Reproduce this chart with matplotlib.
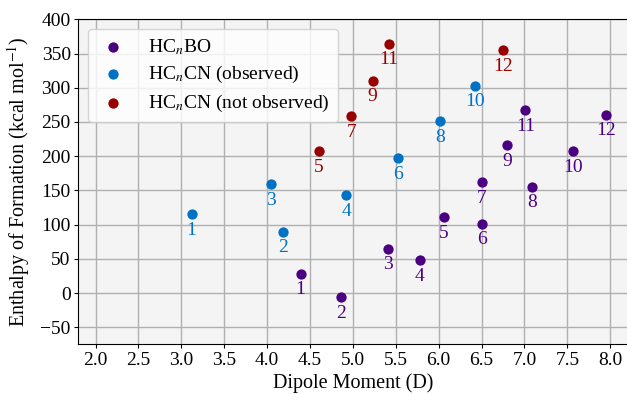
import matplotlib
matplotlib.use("Agg")
import matplotlib.pyplot as plt

# HCnBO
bo_n = [1, 2, 3, 4, 5, 6, 7, 8, 9, 10, 11, 12]
bo_dipole = [4.39, 4.86, 5.41, 5.78, 6.06, 6.50, 6.50, 7.09, 6.80, 7.57, 7.01, 7.95]
bo_enthalpy = [28.3, -6.3, 64.7, 48.1, 110.8, 101.6, 162.4, 155.5, 215.7, 207.6, 267.3, 260.5]

# HCnCN observed
obs_n = [1, 2, 3, 4, 6, 8, 10]
obs_dipole = [3.12, 4.19, 4.05, 4.92, 5.53, 6.02, 6.42]
obs_enthalpy = [115.2, 89.5, 158.9, 143.4, 196.8, 250.7, 302.8]

# HCnCN not observed
nobs_n = [5, 7, 9, 11, 12]
nobs_dipole = [4.60, 4.98, 5.23, 5.42, 6.75]
nobs_enthalpy = [207.0, 258.6, 310.5, 364.4, 355.2]

xticks = [2.0, 2.5, 3.0, 3.5, 4.0, 4.5, 5.0, 5.5, 6.0, 6.5, 7.0, 7.5, 8.0]
yticks = [-50, 0, 50, 100, 150, 200, 250, 300, 350, 400]

plt.rcParams['font.family'] = ['Liberation Serif', 'DejaVu Serif']
plt.rcParams['mathtext.fontset'] = 'stix'

fig = plt.figure(figsize=(6.27, 3.94), dpi=100)
ax = fig.add_axes([0.125, 0.126, 0.877, 0.825])
ax.set_facecolor('#f4f4f4')
ax.set_axisbelow(True)
ax.grid(True, color='#b0b0b0', linewidth=1.0)

series = [
    (bo_n, bo_dipole, bo_enthalpy, '#4b0082', r'HC$_n$BO'),
    (obs_n, obs_dipole, obs_enthalpy, '#0072c6', r'HC$_n$CN (observed)'),
    (nobs_n, nobs_dipole, nobs_enthalpy, '#990000', r'HC$_n$CN (not observed)'),
]
fs = 14
for ns, xs, ys, c, lab in series:
    ax.scatter(xs, ys, s=55, color=c, label=lab, zorder=3, linewidths=0)
    for n, x, y in zip(ns, xs, ys):
        ax.annotate(str(n), (x, y), xytext=(0, -5.5), textcoords='offset points',
                    ha='center', va='top', color=c, fontsize=fs)

ax.set_xlim(1.8, 8.21)
ax.set_ylim(-75, 400)
ax.set_xticks(xticks)
ax.set_yticks(yticks)
ax.set_xticklabels([f"{t:.1f}" for t in xticks])
ax.tick_params(labelsize=fs, length=3, pad=2.5)
ax.spines['right'].set_visible(False)
ax.set_xlabel('Dipole Moment (D)', fontsize=fs + 0.5, labelpad=3)
ax.set_ylabel(r'Enthalpy of Formation (kcal mol$^{-1}$)', fontsize=fs + 0.5, labelpad=6)
ax.legend(loc='upper left', fontsize=fs, framealpha=0.8, borderpad=0.4,
          labelspacing=0.4, handletextpad=0.9, handlelength=1.8, scatterpoints=1)

fig.savefig('out.png', dpi=100)
